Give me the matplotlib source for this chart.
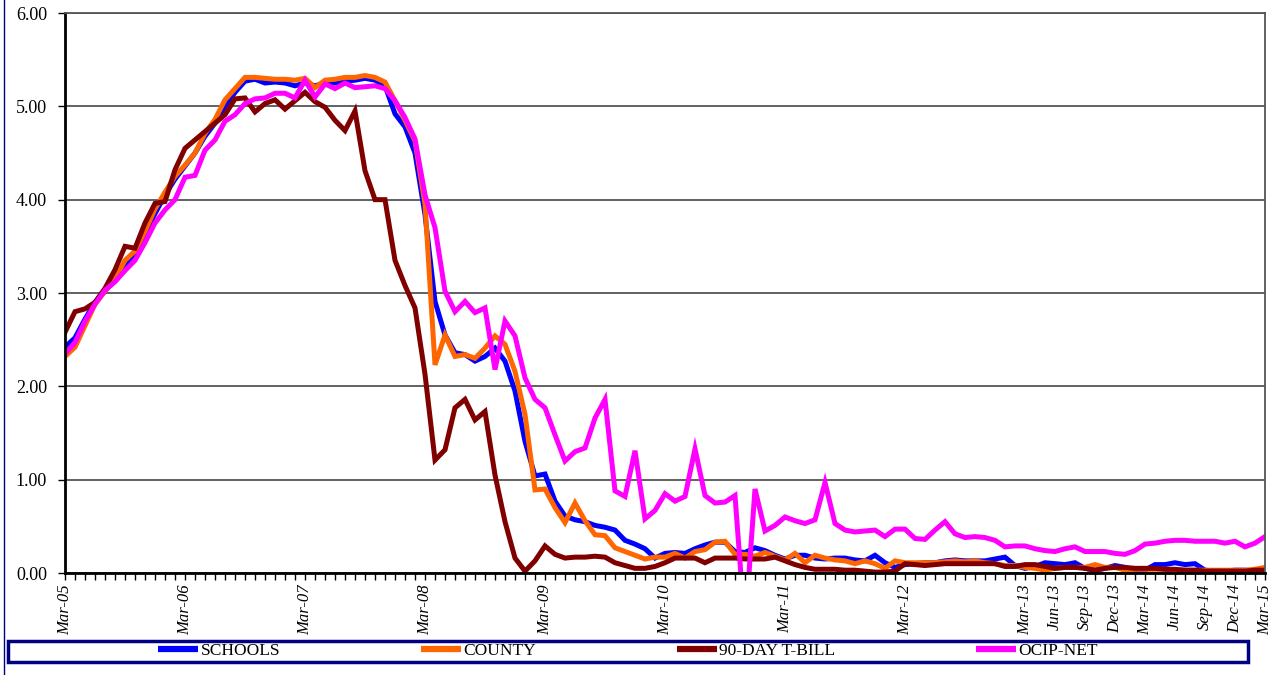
import matplotlib
matplotlib.use("Agg")
import matplotlib.pyplot as plt
from matplotlib.lines import Line2D
from matplotlib.patches import Rectangle

# meses desde Mar-05 hasta Mar-15 (121 puntos)
meses = list(range(121))

schools = [2.42, 2.52, 2.72, 2.90, 3.02, 3.14, 3.30, 3.43, 3.63, 3.85,
           4.05, 4.22, 4.36, 4.50, 4.68, 4.82, 5.00, 5.15, 5.27, 5.29,
           5.25, 5.26, 5.25, 5.22, 5.25, 5.22, 5.25, 5.25, 5.27, 5.28,
           5.30, 5.28, 5.22, 4.92, 4.78, 4.50, 3.84, 2.91, 2.55, 2.36,
           2.34, 2.27, 2.32, 2.41, 2.27, 1.95, 1.41, 1.04, 1.06, 0.77,
           0.61, 0.57, 0.55, 0.51, 0.49, 0.46, 0.35, 0.31, 0.26, 0.16,
           0.21, 0.22, 0.21, 0.26, 0.30, 0.33, 0.33, 0.23, 0.22, 0.27,
           0.24, 0.19, 0.15, 0.19, 0.19, 0.16, 0.15, 0.16, 0.16, 0.14,
           0.13, 0.19, 0.11, 0.06, 0.09, 0.10, 0.11, 0.11, 0.13, 0.14,
           0.13, 0.13, 0.13, 0.15, 0.17, 0.08, 0.05, 0.07, 0.11, 0.10,
           0.09, 0.11, 0.05, 0.03, 0.05, 0.08, 0.06, 0.03, 0.03, 0.09,
           0.09, 0.11, 0.09, 0.10, 0.03, 0.02, 0.02, 0.03, 0.03, 0.02,
           0.02]

county = [2.32, 2.42, 2.65, 2.88, 3.02, 3.15, 3.35, 3.45, 3.66, 3.90,
          4.08, 4.25, 4.37, 4.50, 4.71, 4.86, 5.07, 5.19, 5.31, 5.31,
          5.30, 5.29, 5.29, 5.28, 5.30, 5.20, 5.28, 5.29, 5.31, 5.31,
          5.33, 5.31, 5.26, 5.06, 4.85, 4.63, 3.95, 2.23, 2.55, 2.32,
          2.34, 2.30, 2.41, 2.54, 2.45, 2.16, 1.70, 0.89, 0.90, 0.70,
          0.54, 0.75, 0.56, 0.41, 0.40, 0.27, 0.23, 0.19, 0.15, 0.17,
          0.17, 0.21, 0.16, 0.23, 0.25, 0.33, 0.34, 0.20, 0.20, 0.18,
          0.22, 0.18, 0.14, 0.21, 0.11, 0.19, 0.16, 0.14, 0.13, 0.10,
          0.13, 0.10, 0.05, 0.13, 0.11, 0.11, 0.11, 0.11, 0.12, 0.13,
          0.12, 0.13, 0.11, 0.10, 0.08, 0.08, 0.06, 0.05, 0.03, 0.05,
          0.06, 0.06, 0.06, 0.09, 0.06, 0.06, 0.03, 0.04, 0.04, 0.04,
          0.04, 0.03, 0.03, 0.03, 0.03, 0.03, 0.03, 0.03, 0.03, 0.04,
          0.06]

tbill = [2.58, 2.80, 2.83, 2.90, 3.05, 3.25, 3.50, 3.48, 3.75, 3.96,
         3.98, 4.32, 4.55, 4.64, 4.73, 4.82, 4.91, 5.08, 5.09, 4.94,
         5.03, 5.07, 4.97, 5.06, 5.15, 5.05, 4.99, 4.85, 4.74, 4.95,
         4.31, 4.00, 4.00, 3.35, 3.08, 2.84, 2.13, 1.21, 1.32, 1.77,
         1.86, 1.64, 1.73, 1.05, 0.55, 0.16, 0.02, 0.13, 0.29, 0.20,
         0.16, 0.17, 0.17, 0.18, 0.17, 0.11, 0.08, 0.05, 0.05, 0.07,
         0.11, 0.16, 0.16, 0.16, 0.11, 0.16, 0.16, 0.16, 0.15, 0.15,
         0.15, 0.17, 0.13, 0.09, 0.06, 0.04, 0.04, 0.04, 0.03, 0.03,
         0.02, 0.01, 0.01, 0.02, 0.10, 0.09, 0.08, 0.09, 0.10, 0.10,
         0.10, 0.10, 0.10, 0.10, 0.07, 0.07, 0.09, 0.09, 0.07, 0.05,
         0.06, 0.06, 0.05, 0.03, 0.05, 0.06, 0.06, 0.05, 0.05, 0.05,
         0.04, 0.04, 0.03, 0.03, 0.02, 0.02, 0.02, 0.02, 0.02, 0.03,
         0.03]

ocip = [2.35, 2.47, 2.70, 2.88, 3.03, 3.12, 3.24, 3.35, 3.54, 3.75,
        3.89, 4.00, 4.24, 4.26, 4.53, 4.64, 4.84, 4.91, 5.03, 5.08,
        5.09, 5.14, 5.14, 5.09, 5.28, 5.10, 5.24, 5.19, 5.25, 5.20,
        5.21, 5.22, 5.19, 5.06, 4.88, 4.65, 4.05, 3.70, 3.02, 2.80,
        2.91, 2.79, 2.84, 2.18, 2.70, 2.54, 2.09, 1.86, 1.77, 1.48,
        1.20, 1.30, 1.34, 1.66, 1.86, 0.88, 0.82, 1.31, 0.58, 0.67,
        0.85, 0.77, 0.82, 1.33, 0.83, 0.75, 0.76, 0.83, -0.60, 0.90,
        0.45, 0.51, 0.60, 0.56, 0.53, 0.57, 0.97, 0.53, 0.46, 0.44,
        0.45, 0.46, 0.39, 0.47, 0.47, 0.37, 0.36, 0.46, 0.55, 0.42,
        0.38, 0.39, 0.38, 0.35, 0.28, 0.29, 0.29, 0.26, 0.24, 0.23,
        0.26, 0.28, 0.23, 0.23, 0.23, 0.21, 0.20, 0.24, 0.31, 0.32,
        0.34, 0.35, 0.35, 0.34, 0.34, 0.34, 0.32, 0.34, 0.28, 0.32,
        0.39]

# etiquetas del eje x: anuales hasta Mar-12, luego trimestrales
pos_etiquetas = [0, 12, 24, 36, 48, 60, 72, 84, 96, 99, 102, 105, 108,
                 111, 114, 117, 120]
etiquetas = ["Mar-05", "Mar-06", "Mar-07", "Mar-08", "Mar-09", "Mar-10",
             "Mar-11", "Mar-12", "Mar-13", "Jun-13", "Sep-13", "Dec-13",
             "Mar-14", "Jun-14", "Sep-14", "Dec-14", "Mar-15"]

series = [("SCHOOLS", schools, "#0000FF"),
          ("COUNTY", county, "#FF6600"),
          ("90-DAY T-BILL", tbill, "#800000"),
          ("OCIP-NET", ocip, "#FF00FF")]

plt.rcParams["font.family"] = ["Liberation Serif", "DejaVu Serif"]

fig = plt.figure(figsize=(12.79, 6.75), dpi=100)
ax = fig.add_axes([65 / 1279, 1 - 573 / 675, 1200 / 1279, 560 / 675])

for nombre, valores, color in series:
    ax.plot(meses, valores, color=color, lw=3.6, label=nombre,
            solid_joinstyle="miter")

ax.set_xlim(0, 120)
ax.set_ylim(0, 6)
ax.set_yticks([0, 1, 2, 3, 4, 5, 6])
ax.set_yticklabels([f"{v:.2f}" for v in [0, 1, 2, 3, 4, 5, 6]], fontsize=13)
ax.yaxis.grid(True, color="#555555", lw=1.3)
ax.set_axisbelow(True)

ax.set_xticks(pos_etiquetas)
ax.set_xticklabels(etiquetas, rotation=90, fontsize=12, style="italic")
ax.set_xticks(meses, minor=True)
ax.tick_params(axis="x", which="both", direction="out", length=5, width=1,
               pad=3)
ax.tick_params(axis="y", direction="out", length=5, width=1, pad=8)

ax.spines["left"].set_linewidth(2)
ax.spines["bottom"].set_linewidth(2)
ax.spines["top"].set_color("#555555")
ax.spines["top"].set_linewidth(1.3)
ax.spines["right"].set_color("#555555")
ax.spines["right"].set_linewidth(1.3)

# marco de la leyenda
fig.add_artist(Rectangle((8 / 1279, 1 - 662 / 675), 1240 / 1279, 21 / 675,
                         transform=fig.transFigure, fill=False,
                         edgecolor="#000080", lw=2.5))
fig.add_artist(Line2D([4 / 1279, 4 / 1279], [0, 1], transform=fig.transFigure,
                      color="#000080", lw=1))

manejadores = [Line2D([0], [0], color=c, lw=4.5, solid_capstyle="butt")
               for _, _, c in series]
fig.legend(manejadores, [n for n, _, _ in series], loc="center",
           bbox_to_anchor=(628 / 1279, 1 - 651 / 675), ncol=4,
           frameon=False, fontsize=12.5, handlelength=2.3,
           handletextpad=0.15, columnspacing=8.1, borderpad=0)

fig.savefig("out.png", dpi=100)
